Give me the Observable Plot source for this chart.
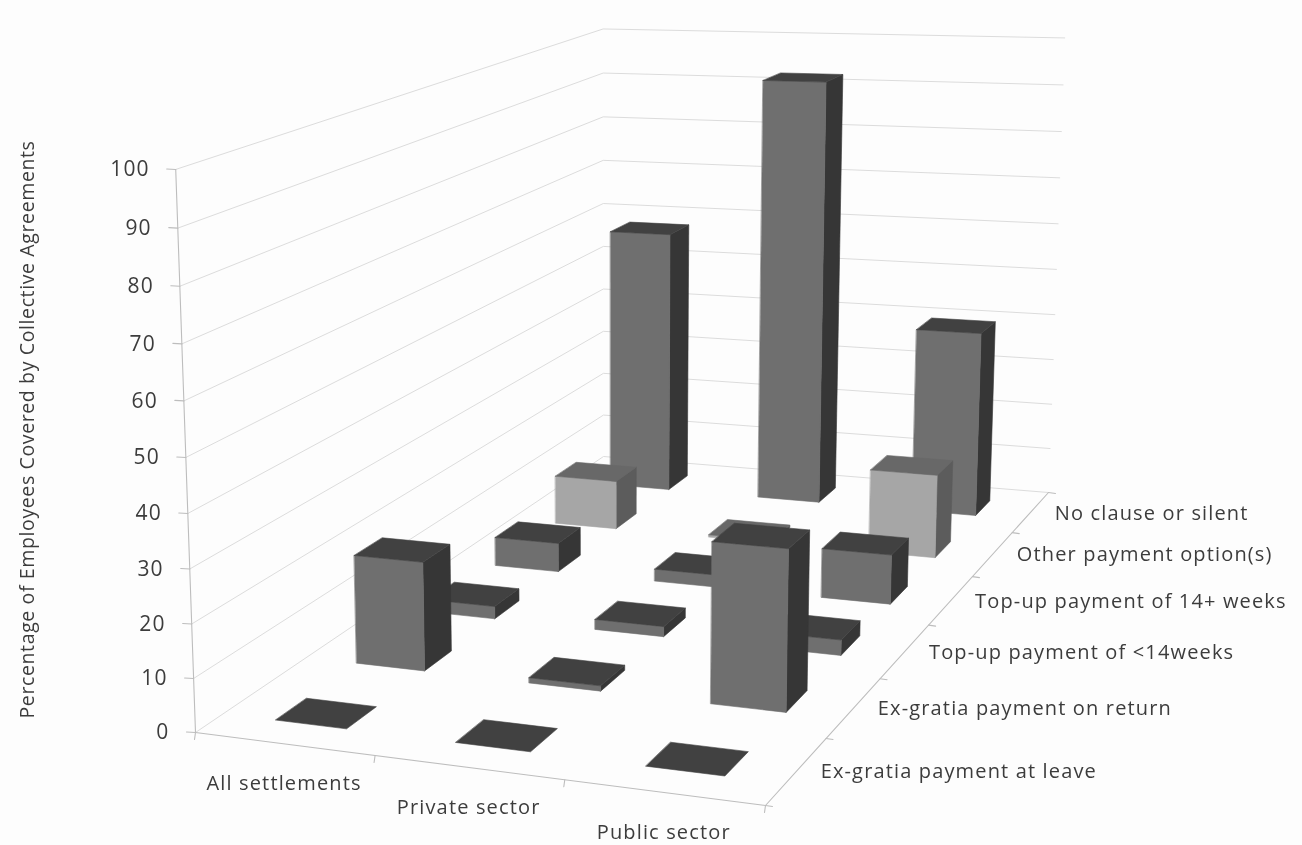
<!DOCTYPE html>
<html><head><meta charset="utf-8">
<script src="https://cdn.jsdelivr.net/npm/d3@7"></script>
<script src="https://cdn.jsdelivr.net/npm/@observablehq/plot@0.6"></script>
<style>html,body{margin:0;padding:0;background:#fdfdfd}svg{display:block;filter:blur(0.5px)}
.lab text{letter-spacing:1.15px}.ttl text{letter-spacing:0.62px}</style>
</head><body><div id="chart"></div>
<script>
const categories = ["All settlements", "Private sector", "Public sector"];
const rows = ["Ex-gratia payment at leave", "Ex-gratia payment on return", "Top-up payment of <14weeks", "Top-up payment of 14+ weeks", "Other payment option(s)", "No clause or silent"];
const allSettlements = [0, 21, 2.5, 6, 10.5, 58];
const privateSector = [0, 1, 2, 2.5, 0.5, 92.5];
const publicSector = [0, 30, 3, 10, 17.5, 40];
const series = [allSettlements, privateSector, publicSector];
const valueTicks = [0, 10, 20, 30, 40, 50, 60, 70, 80, 90, 100];
const yTitle = "Percentage of Employees Covered by Collective Agreements";

// Camera: where the corners of the chart box land on the page
const cam = {
  floor: [[195,732],[765,805],[1048,492],[603,456]],
  top: [[0,0,175,168],[0,1,603,23],[1,1,1064,44]]
};
const [p0,p1,p2,p3] = cam.floor;
const hom = () => {
  const dx1=p1[0]-p2[0],dx2=p3[0]-p2[0],sx=p0[0]-p1[0]+p2[0]-p3[0];
  const dy1=p1[1]-p2[1],dy2=p3[1]-p2[1],sy=p0[1]-p1[1]+p2[1]-p3[1];
  const den=dx1*dy2-dx2*dy1;
  return {g:(sx*dy2-dx2*sy)/den,h:(dx1*sy-sx*dy1)/den};
};
const {g,h} = hom();
const a=p1[0]-p0[0]+g*p1[0], b=p3[0]-p0[0]+h*p3[0], d=p0[0];
const e=p1[1]-p0[1]+g*p1[1], f=p3[1]-p0[1]+h*p3[1], k=p0[1];
// least squares for the vertical column (cx, cy, ci)
function solveVertical(){
  const A=[],B=[];
  for(const [u,v,X,Y] of cam.top){
    const W=g*u+h*v+1;
    A.push([1,0,-X]);B.push(X*W-(a*u+b*v+d));
    A.push([0,1,-Y]);B.push(Y*W-(e*u+f*v+k));
  }
  const N=[0,1,2].map(i=>[0,1,2].map(j=>d3.sum(A,r=>r[i]*r[j])));
  const R=[0,1,2].map(i=>d3.sum(A,(r,n)=>r[i]*B[n]));
  for(let i=0;i<3;i++){
    for(let j=i+1;j<3;j++){
      const m=N[j][i]/N[i][i];
      for(let c=i;c<3;c++)N[j][c]-=m*N[i][c];
      R[j]-=m*R[i];
    }
  }
  const s=[0,0,0];
  for(let i=2;i>=0;i--){
    s[i]=(R[i]-d3.sum([0,1,2].filter(c=>c>i),c=>N[i][c]*s[c]))/N[i][i];
  }
  return s;
}
const [cx,cy,ci]=solveVertical();
// u: 0..1 across categories, v: 0..1 across rows, w: 0..1 of value
function project(u,v,w){
  const W=g*u+h*v+ci*w+1;
  return [(a*u+b*v+cx*w+d)/W,(e*u+f*v+cy*w+k)/W];
}

// Gridlines on the two walls and the floor edges
const grid=[];
for(const t of valueTicks){
  const w=t/100;
  for(const [u,v] of [[0,0],[0,1],[1,1]]){
    const [x,y]=project(u,v,w);
    grid.push({id:"g"+t,x,y});
  }
}
const edges=[];
const addEdge=(id,A,B)=>{const[p,q]=[project(...A),project(...B)];edges.push({id,x:p[0],y:p[1]},{id,x:q[0],y:q[1]});};
addEdge("wall",[0,0,0],[0,0,1]);
addEdge("front",[0,0,0],[1,0,0]);
addEdge("side",[1,0,0],[1,1,0]);
valueTicks.forEach(t=>{const p=project(0,0,t/100);edges.push({id:"vt"+t,x:p[0],y:p[1]},{id:"vt"+t,x:p[0]-9,y:p[1]-0.5});});
d3.range(0,categories.length+1).forEach(i=>{const p=project(i/categories.length,0,0);edges.push({id:"ct"+i,x:p[0],y:p[1]},{id:"ct"+i,x:p[0]-1,y:p[1]+7});});
d3.range(0,rows.length+1).forEach(i=>{const p=project(1,i/rows.length,0);edges.push({id:"rt"+i,x:p[0],y:p[1]},{id:"rt"+i,x:p[0]+7,y:p[1]+1});});

// Bars as polygons, painted back to front
const barU=0.40, barV=0.37;
const style=r=>r===4?{front:"#a6a6a6",side:"#5c5c5c",top:"#686868"}:{front:"#6f6f6f",side:"#363636",top:"#414141"};
const faces=[];
function addFace(id,pts,c){pts.forEach(P=>{const[x,y]=project(...P);faces.push({id,x,y,c});});}
for(let r=rows.length-1;r>=0;r--){
  for(let i=0;i<categories.length;i++){
    const val=series[i][r]/100;
    const du=(1-barU)/2, dv=(1-barV)/2;
    const u0=(i+du)/categories.length,u1=(i+1-du)/categories.length;
    const v0=(r+dv)/rows.length,v1=(r+1-dv)/rows.length;
    const s=style(r), id=`${i}-${r}-`;
    if(val>0){
      addFace(id+"s",[[u1,v0,0],[u1,v1,0],[u1,v1,val],[u1,v0,val]],s.side);
      addFace(id+"f",[[u0,v0,0],[u1,v0,0],[u1,v0,val],[u0,v0,val]],s.front);
    }
    addFace(id+"t",[[u0,v0,val],[u1,v0,val],[u1,v1,val],[u0,v1,val]],s.top);
  }
}

// Labels
const valueLabels=valueTicks.map(t=>{const p=project(0,0,t/100);return{t:String(t),x:p[0]-26,y:p[1]};});
const catLabels=categories.map((t,i)=>{const p=project((i+.5)/categories.length,0,0);return{t,x:p[0],y:p[1]+40};});
const rowLabels=rows.map((t,i)=>{const p=project(1,(i+.5)/rows.length,0);return{t,x:p[0]+24,y:p[1]+1};});

const font="Open Sans";
const ink="#3c3c3c";
const plot=Plot.plot({
  width:1302,height:845,margin:0,
  x:{domain:[0,1302],range:[0,1302],axis:null},
  y:{domain:[0,845],range:[0,845],axis:null},
  color:{type:"identity"},
  style:{background:"#fdfdfd",fontFamily:font},
  marks:[
    Plot.line(grid,{x:"x",y:"y",z:"id",stroke:"#dcdcdc",strokeWidth:1}),
    Plot.line(edges,{x:"x",y:"y",z:"id",stroke:"#bdbdbd",strokeWidth:1.1}),
    Plot.line(faces,{x:"x",y:"y",z:"id",fill:"c",stroke:"c",strokeWidth:0.6,curve:"linear-closed"}),
    Plot.text(valueLabels,{x:"x",y:"y",text:"t",textAnchor:"end",fontSize:21,fill:ink,fontFamily:font,className:"lab"}),
    Plot.text(catLabels,{x:"x",y:"y",text:"t",textAnchor:"middle",fontSize:20,fill:ink,fontFamily:font,className:"lab"}),
    Plot.text(rowLabels,{x:"x",y:"y",text:"t",textAnchor:"start",fontSize:20,fill:ink,fontFamily:font,className:"lab"}),
    Plot.text([yTitle],{x:()=>27,y:()=>429,text:d=>d,rotate:-90,textAnchor:"middle",fontSize:19.5,fill:ink,fontFamily:font,className:"ttl"})
  ]
});
document.getElementById("chart").append(plot);
</script></body></html>
